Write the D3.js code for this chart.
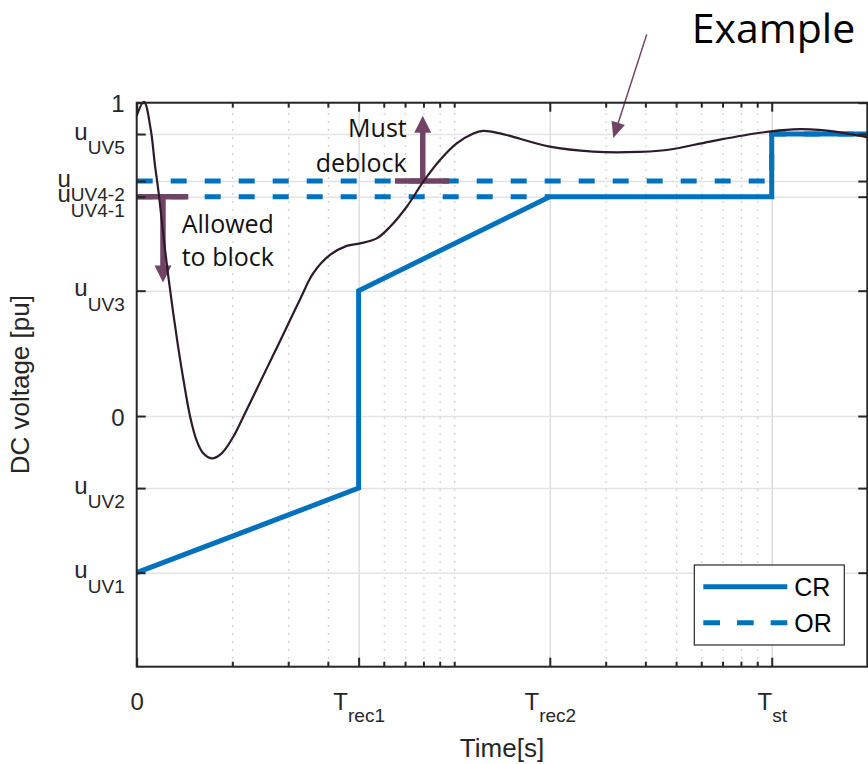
<!DOCTYPE html>
<html lang="en">
<head>
<meta charset="utf-8">
<title>DC voltage ride-through</title>
<script src="https://cdn.jsdelivr.net/npm/d3@7"></script>
<style>
  body { margin: 0; background: #fff; }
  svg { display: block; }
</style>
</head>
<body>
<script>
// chart values
var yTickVals = [1, 0.9, 0.75, 0.7, 0.4, 0, -0.23, -0.5];
var yTickMain = ["1", "u", "u", "u", "u", "0", "u", "u"];
var yTickSub  = ["", "UV5", "UV4-2", "UV4-1", "UV3", "", "UV2", "UV1"];

var xMajorVals = [1, 5, 20, 100];
var xMajorMain = ["0", "T", "T", "T"];
var xMajorSub  = ["", "rec1", "rec2", "st"];
var xMinorVals = [2, 3, 4, 6, 7, 8, 9, 10, 30, 40, 50, 60, 70, 80, 90];

// CR characteristic (solid)
var crX = [1, 5, 5, 20, 100, 100, 200];
var crY = [-0.5, -0.23, 0.4, 0.7, 0.7, 0.9, 0.9];
// OR characteristic (dashed, two levels)
var orUpperX = [1, 100, 100, 200];
var orUpperY = [0.75, 0.75, 0.9, 0.9];
var orLowerX = [1, 20];
var orLowerY = [0.7, 0.7];

// example DC voltage trace
var exX = [1.0, 1.054, 1.107, 1.139, 1.176, 1.214, 1.257, 1.303, 1.351, 1.404, 1.474, 1.543, 1.618, 1.723,
           1.852, 2.015, 2.167, 2.504, 2.827, 3.268, 3.599, 4.063, 4.585, 5.05, 5.702, 6.279, 7.087, 7.991,
           9.022, 10.18, 11.49, 12.35, 13.94, 14.99, 20, 27.43, 34.94, 46.7, 63.93, 91.88, 117, 132, 149, 194.3, 200];
var exY = [0.958, 1.003, 0.915, 0.809, 0.702, 0.575, 0.447, 0.329, 0.22, 0.115, -0.003, -0.077, -0.118, -0.135,
           -0.119, -0.066, -0.002, 0.129, 0.239, 0.372, 0.456, 0.514, 0.543, 0.551, 0.567, 0.604, 0.668, 0.748,
           0.817, 0.87, 0.902, 0.91, 0.902, 0.894, 0.86, 0.844, 0.842, 0.849, 0.876, 0.904, 0.915, 0.915, 0.911, 0.892, 0.889];

var legendNames = ["CR", "OR"];

// annotations (data units)
var blockBar = {x0: 1, x1: 1.454, y: 0.7, ax: 1.21, tipY: 0.426};
var deblockBar = {x0: 6.51, x1: 9.65, y: 0.75, ax: 7.96, tipY: 0.958};
var blockText = ["Allowed", "to block"];
var deblockText = ["Must", "deblock"];
var exArrow = {x0: 40.4, y0: 1.218, x1: 31.7, y1: 0.887};

var w = 868, h = 764;
var padL = 136.7, padR = 867.3, padT = 102.7, padB = 666.7;

var blue = "#0072bd", purple = "#714466", dark = "#2d1a2b", axisCol = "#262626";
var tickFont = "'Liberation Sans', Arial, sans-serif";
var noteFont = "'Open Sans', 'Noto Sans', sans-serif";

var xScale = d3.scaleLog().domain([1, 200]).range([padL, padR]);
var yScale = d3.scaleLinear().domain([-0.8, 1]).range([padB, padT]);

var svg = d3.select("body").append("svg")
  .attr("width", w).attr("height", h);

// grid
var grid = svg.append("g");
grid.append("g")
  .attr("transform", "translate(0," + padB + ")")
  .call(d3.axisBottom(xScale).tickValues(xMinorVals).tickSize(-(padB - padT)).tickFormat(""))
  .call(function(g) {
    g.select(".domain").remove();
    g.selectAll("line").attr("stroke", "#bdbdbd").attr("stroke-width", 1.2).attr("stroke-dasharray", "1.5,6.5");
  });
grid.append("g")
  .attr("transform", "translate(0," + padB + ")")
  .call(d3.axisBottom(xScale).tickValues(xMajorVals.slice(1)).tickSize(-(padB - padT)).tickFormat(""))
  .call(function(g) {
    g.select(".domain").remove();
    g.selectAll("line").attr("stroke", "#dcdcdc").attr("stroke-width", 1.5);
  });
grid.append("g")
  .attr("transform", "translate(" + padL + ",0)")
  .call(d3.axisLeft(yScale).tickValues(yTickVals).tickSize(-(padR - padL)).tickFormat(""))
  .call(function(g) {
    g.select(".domain").remove();
    g.selectAll("line").attr("stroke", "#e3e3e3").attr("stroke-width", 1.5);
  });

var line = d3.line()
  .x(function(d) { return xScale(d[0]); })
  .y(function(d) { return yScale(d[1]); });

// OR
[[orUpperX, orUpperY], [orLowerX, orLowerY]].forEach(function(s) {
  svg.append("path")
    .datum(d3.zip(s[0], s[1]))
    .attr("d", line)
    .attr("fill", "none")
    .attr("stroke", blue)
    .attr("stroke-width", 5)
    .attr("stroke-dasharray", "16,18");
});

// CR
svg.append("path")
  .datum(d3.zip(crX, crY))
  .attr("d", line)
  .attr("fill", "none")
  .attr("stroke", blue)
  .attr("stroke-width", 5)
  .attr("stroke-linejoin", "miter");

// annotation bars + arrows
function arrowHead(tx, ty, dx, dy, len, wid) {
  var n = Math.sqrt(dx * dx + dy * dy);
  var ux = dx / n, uy = dy / n;
  var bx = tx - ux * len, by = ty - uy * len;
  var px = -uy * wid / 2, py = ux * wid / 2;
  return "M" + tx + "," + ty + "L" + (bx + px) + "," + (by + py) + "L" + (bx - px) + "," + (by - py) + "Z";
}

[blockBar, deblockBar].forEach(function(b) {
  svg.append("line")
    .attr("x1", xScale(b.x0)).attr("x2", xScale(b.x1))
    .attr("y1", yScale(b.y)).attr("y2", yScale(b.y))
    .attr("stroke", purple).attr("stroke-width", 5.5);
  var ax = xScale(b.ax), y0 = yScale(b.y), ty = yScale(b.tipY);
  var dir = ty > y0 ? 1 : -1;
  svg.append("line")
    .attr("x1", ax).attr("x2", ax)
    .attr("y1", y0).attr("y2", ty - dir * 14)
    .attr("stroke", purple).attr("stroke-width", 5.5);
  svg.append("path")
    .attr("d", arrowHead(ax, ty, 0, dir, 17, 17))
    .attr("fill", purple);
});

// example trace
var smooth = d3.line()
  .x(function(d) { return xScale(d[0]); })
  .y(function(d) { return yScale(d[1]); })
  .curve(d3.curveCatmullRom.alpha(0.5));
svg.append("path")
  .datum(d3.zip(exX, exY))
  .attr("d", smooth)
  .attr("fill", "none")
  .attr("stroke", dark)
  .attr("stroke-width", 2.2);

// annotation texts
svg.append("text")
  .attr("font-family", noteFont).attr("font-size", 25).attr("fill", "#111")
  .selectAll("tspan").data(blockText).enter().append("tspan")
  .attr("x", xScale(1.386))
  .attr("y", function(d, i) { return yScale(i ? 0.478 : 0.584); })
  .text(function(d) { return d; });
svg.append("text")
  .attr("font-family", noteFont).attr("font-size", 25).attr("fill", "#111")
  .attr("text-anchor", "end")
  .selectAll("tspan").data(deblockText).enter().append("tspan")
  .attr("x", xScale(7.087))
  .attr("y", function(d, i) { return yScale(i ? 0.78 : 0.892); })
  .text(function(d) { return d; });

// thin arrow + "Example"
var ex0 = xScale(exArrow.x0), ey0 = yScale(exArrow.y0), ex1 = xScale(exArrow.x1), ey1 = yScale(exArrow.y1);
var elen = Math.sqrt((ex1 - ex0) * (ex1 - ex0) + (ey1 - ey0) * (ey1 - ey0));
svg.append("line")
  .attr("x1", ex0).attr("y1", ey0)
  .attr("x2", ex1 - (ex1 - ex0) / elen * 12).attr("y2", ey1 - (ey1 - ey0) / elen * 12)
  .attr("stroke", purple).attr("stroke-width", 1.5);
svg.append("path")
  .attr("d", arrowHead(ex1, ey1, ex1 - ex0, ey1 - ey0, 16, 14))
  .attr("fill", purple);
svg.append("text")
  .attr("x", xScale(56)).attr("y", yScale(1.189))
  .attr("font-family", noteFont).attr("font-size", 41).attr("fill", "#000")
  .text("Example");

// axes box
svg.append("rect")
  .attr("x", padL).attr("y", padT)
  .attr("width", padR - padL).attr("height", padB - padT)
  .attr("fill", "none").attr("stroke", axisCol).attr("stroke-width", 2);

function styleTicks(g) {
  g.select(".domain").remove();
  g.selectAll("line").attr("stroke", axisCol).attr("stroke-width", 2);
  g.selectAll("text").remove();
}

// x ticks bottom/top
var xb = svg.append("g").attr("transform", "translate(0," + padB + ")")
  .call(d3.axisBottom(xScale).tickValues(xMajorVals).tickSize(-9).tickFormat(""))
  .call(styleTicks);
svg.append("g").attr("transform", "translate(0," + padB + ")")
  .call(d3.axisBottom(xScale).tickValues(xMinorVals).tickSize(-5).tickFormat(""))
  .call(styleTicks);
svg.append("g").attr("transform", "translate(0," + padT + ")")
  .call(d3.axisTop(xScale).tickValues(xMajorVals).tickSize(-9).tickFormat(""))
  .call(styleTicks);
svg.append("g").attr("transform", "translate(0," + padT + ")")
  .call(d3.axisTop(xScale).tickValues(xMinorVals).tickSize(-5).tickFormat(""))
  .call(styleTicks);

xb.selectAll(".tick").append("text")
  .attr("text-anchor", "middle")
  .attr("y", 43)
  .attr("fill", "#262626")
  .attr("font-family", tickFont).attr("font-size", 24)
  .each(function(d, i) {
    var t = d3.select(this);
    t.append("tspan").text(xMajorMain[i]);
    if (xMajorSub[i]) t.append("tspan").attr("dy", 12).attr("font-size", 19).text(xMajorSub[i]);
  });

// y ticks left/right
var yl = svg.append("g").attr("transform", "translate(" + padL + ",0)")
  .call(d3.axisLeft(yScale).tickValues(yTickVals).tickSize(-9).tickFormat(""))
  .call(styleTicks);
svg.append("g").attr("transform", "translate(" + padR + ",0)")
  .call(d3.axisRight(yScale).tickValues(yTickVals).tickSize(-9).tickFormat(""))
  .call(styleTicks);

yl.selectAll(".tick").append("text")
  .attr("text-anchor", "end")
  .attr("x", -12)
  .attr("fill", "#262626")
  .attr("font-family", tickFont).attr("font-size", 24)
  .each(function(d, i) {
    var t = d3.select(this);
    if (yTickSub[i]) {
      t.attr("y", 5);
      t.append("tspan").text(yTickMain[i]);
      t.append("tspan").attr("dy", 14.5).attr("font-size", 19).text(yTickSub[i]);
    } else {
      t.attr("y", 9).text(yTickMain[i]);
    }
  });

// axis labels
svg.append("text")
  .attr("x", (padL + padR) / 2).attr("y", 757)
  .attr("text-anchor", "middle")
  .attr("font-family", tickFont).attr("font-size", 26).attr("fill", "#262626")
  .text("Time[s]");
svg.append("text")
  .attr("transform", "translate(29," + (padT + padB) / 2 + ") rotate(-90)")
  .attr("text-anchor", "middle")
  .attr("font-family", tickFont).attr("font-size", 26).attr("fill", "#262626")
  .text("DC voltage [pu]");

// legend
var lg = svg.append("g").attr("transform", "translate(694.3,565)");
lg.append("rect")
  .attr("width", 150).attr("height", 80)
  .attr("fill", "#fff").attr("stroke", axisCol).attr("stroke-width", 1.2);
lg.selectAll("g.item").data(legendNames).enter().append("g")
  .attr("class", "item")
  .attr("transform", function(d, i) { return "translate(0," + (21.7 + i * 36) + ")"; })
  .each(function(d, i) {
    var g = d3.select(this);
    g.append("line")
      .attr("x1", 9).attr("x2", 93)
      .attr("stroke", blue).attr("stroke-width", 5)
      .attr("stroke-dasharray", i ? "16.7,17" : null);
    g.append("text")
      .attr("x", 100).attr("y", 9.5)
      .attr("font-family", tickFont).attr("font-size", 25).attr("fill", "#000")
      .text(d);
  });
</script>
</body>
</html>
